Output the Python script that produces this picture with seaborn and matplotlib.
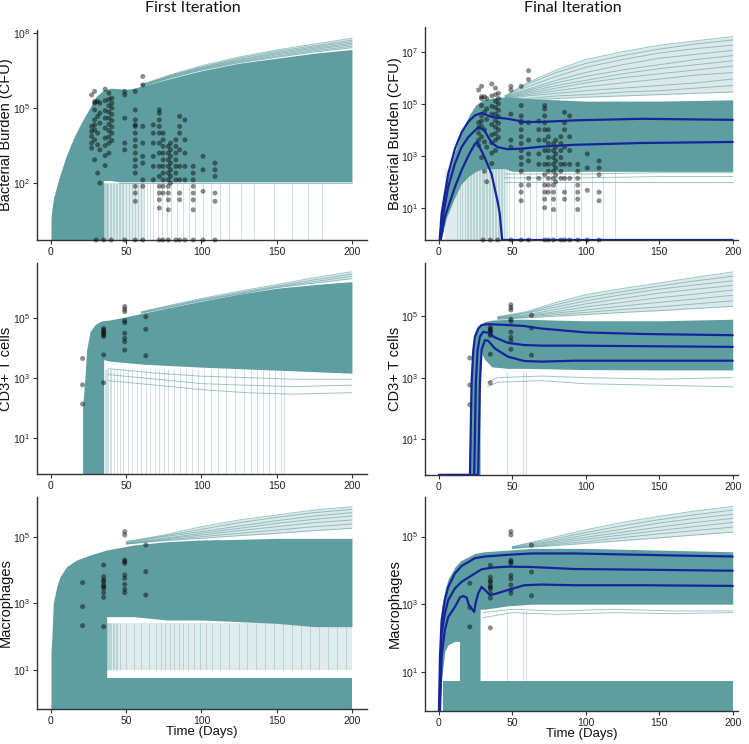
import matplotlib
matplotlib.use("Agg")
import matplotlib.pyplot as plt
from matplotlib.ticker import NullLocator
import numpy as np
import pandas as pd
import seaborn as sns

TEAL = "#5f9ea0"
BLUE = "#14259b"

CFU_T = [27, 29, 31, 32.5, 36, 38.5, 40.5, 49, 56, 61, 68, 72, 74.5, 78, 79.5,
         83, 85.5, 89, 94.5, 101, 109]
CFU_LOG = [
    [5.53, 4.27, 4.07, 3.87, 3.6, 3.4],
    [5.67, 5.27, 5.2, 4.93, 4.53, 4.33, 4.13, 3.73, 2.93],
    [5.27, 4.67, 4.0, 3.53, 2.4],
    [5.2, 4.8, 4.4, 3.33, 2.0],
    [5.76, 5.3, 4.9, 4.6, 4.2, 3.8, 3.5, 3.1, 2.7],
    [5.6, 5.35, 5.1, 4.85, 4.6, 4.35, 4.1, 3.85, 3.6, 3.2],
    [5.4, 5.2, 5.0, 4.75, 4.5, 4.25, 4.0, 3.7],
    [5.67, 5.53, 4.6, 3.6, 3.33],
    [5.67, 4.93, 4.53, 4.33, 4.27, 4.0, 3.73, 3.47, 3.2, 2.93, 2.67, 2.4, 1.87, 1.6, 1.27],
    [6.27, 5.93, 4.27, 3.6, 3.07, 2.8, 2.13, 1.87],
    [4.33, 4.0, 3.6, 3.07, 2.67, 2.13],
    [4.93, 4.8, 4.53, 4.27, 4.0, 3.6, 3.2, 2.67, 2.27, 1.87, 1.6, 1.33, 1.0],
    [4.0, 3.73, 3.47, 3.2, 2.93, 2.67, 2.4, 2.13, 1.87, 1.6],
    [3.47, 3.2, 2.93, 2.67, 2.4, 2.13, 1.87, 1.6, 1.33, 0.93],
    [3.6, 3.33, 3.07, 2.8, 2.53, 2.27, 2.0],
    [3.73, 3.47, 3.2, 2.93, 2.67, 2.4, 2.13],
    [4.67, 4.27, 4.0, 3.33, 2.67, 2.13, 1.6, 1.33],
    [4.53, 3.73, 3.2, 2.67, 2.13],
    [2.67, 2.4, 2.13, 1.87, 1.6, 1.33, 0.93],
    [3.07, 2.53, 1.67],
    [2.8, 2.53, 2.27, 1.6, 1.27],
]
CFU_ZERO_T = [30, 35, 40, 49, 56, 61, 72, 74.5, 78, 83, 85.5, 89, 94.5, 101, 109]

CD3_T = [21, 35, 49, 63]
CD3_LOG = [
    [3.64, 2.76, 2.12],
    [4.64, 4.58, 4.53, 4.48, 4.42, 4.37, 3.76, 2.83],
    [5.37, 5.28, 5.2, 4.9, 4.83, 4.48, 4.31, 4.2, 3.92],
    [5.03, 4.61, 3.73],
]

MAC_T = [21, 35, 49, 63]
MAC_LOG = [
    [3.62, 2.9, 2.33],
    [4.15, 3.8, 3.7, 3.65, 3.55, 3.5, 3.45, 3.32, 3.18, 2.3],
    [5.15, 5.05, 4.3, 4.25, 4.2, 3.85, 3.75, 3.57, 3.42, 3.32],
    [4.75, 3.95, 3.25],
]

# ---------- first iteration, bacterial burden ----------
TL_YLIM = (-0.28, 8.13)
TL_BAND_T = [0, 1, 2, 5, 10, 15, 20, 25, 30, 35, 35.01, 40, 45, 50, 55, 60, 80, 100, 125, 150, 175, 200]
TL_BAND_LO = [-0.28, -0.28, -0.28, -0.28, -0.28, -0.28, -0.28, -0.28, -0.28, -0.28,
              2.1, 2.1, 2.05, 2.05, 2.05, 2.05, 2.05, 2.05, 2.05, 2.05, 2.05, 2.05]
TL_BAND_HI = [0.6, 1.15, 1.47, 2.13, 3.07, 3.8, 4.4, 4.93, 5.47, 5.73, 5.73, 5.8, 5.78, 5.75,
              5.8, 5.88, 6.2, 6.5, 6.8, 7.0, 7.2, 7.35]
TL_FAN_T = [60, 80, 100, 125, 150, 175, 200]
TL_FANS = [
    [5.95, 6.35, 6.7, 7.05, 7.33, 7.57, 7.8],
    [5.92, 6.32, 6.65, 7.0, 7.28, 7.5, 7.72],
    [5.92, 6.3, 6.62, 6.95, 7.22, 7.45, 7.66],
    [5.9, 6.28, 6.6, 6.92, 7.18, 7.4, 7.6],
    [5.9, 6.25, 6.57, 6.88, 7.13, 7.35, 7.55],
    [5.88, 6.23, 6.55, 6.85, 7.08, 7.3, 7.48],
    [5.88, 6.22, 6.52, 6.82, 7.04, 7.25, 7.42],
]
TL_LOW_T = [45, 100, 150, 200]
TL_LOWS = [[2.0, 2.0, 2.0, 2.0], [2.15, 2.2, 2.2, 2.25], [2.3, 2.35, 2.4, 2.4]]
TL_SPIKE_T = [35.5, 36, 36.5, 37, 37.5, 38, 39, 40, 41, 42, 43, 44, 45, 46, 47, 48, 50, 52,
              54, 56, 58, 60, 62, 64, 66, 68, 71, 74, 77, 80, 84, 88, 92, 96, 101, 106, 112,
              118, 126, 135, 148, 160, 171, 180]
TL_SPIKE_RNG = (-0.28, 2.0)
TL_HAZE_T = [35, 62]
TL_HAZE_RNG = (-0.28, 2.0)

# ---------- final iteration, bacterial burden ----------
TR_YLIM = (-0.24, 7.95)
TR_BAND_T = [0, 1, 2, 5, 10, 15, 20, 25, 30, 35, 40, 45, 50, 60, 80, 100, 150, 200]
TR_BAND_LO = [-0.24, -0.24, -0.1, 0.6, 1.3, 1.9, 2.2, 2.4, 2.5, 2.5, 2.5, 2.5, 2.4, 2.4,
              2.4, 2.4, 2.4, 2.4]
TR_BAND_HI = [0.0, 0.6, 1.2, 2.0, 3.0, 3.85, 4.5, 4.95, 5.15, 5.2, 5.25, 5.25, 5.25, 5.2,
              5.15, 5.1, 5.1, 5.15]
TR_FAN_T = [45, 60, 80, 100, 125, 150, 175, 200]
TR_FANS = [
    [5.3, 5.8, 6.3, 6.7, 7.0, 7.25, 7.42, 7.58],
    [5.3, 5.75, 6.2, 6.55, 6.85, 7.1, 7.3, 7.45],
    [5.28, 5.65, 6.05, 6.4, 6.7, 6.95, 7.12, 7.25],
    [5.25, 5.55, 5.9, 6.2, 6.5, 6.75, 6.9, 7.05],
    [5.25, 5.5, 5.8, 6.05, 6.3, 6.5, 6.7, 6.85],
    [5.22, 5.45, 5.7, 5.9, 6.15, 6.35, 6.5, 6.65],
    [5.2, 5.4, 5.6, 5.8, 6.0, 6.15, 6.3, 6.45],
    [5.2, 5.35, 5.5, 5.65, 5.8, 5.95, 6.1, 6.2],
    [5.15, 5.3, 5.4, 5.5, 5.6, 5.7, 5.8, 5.95],
    [5.1, 5.2, 5.3, 5.35, 5.45, 5.5, 5.6, 5.7],
    [5.1, 5.15, 5.2, 5.25, 5.3, 5.35, 5.4, 5.45],
]
TR_LOW_T = [45, 100, 150, 200]
TR_LOWS = [[2.0, 2.0, 2.0, 2.0], [2.15, 2.15, 2.2, 2.2], [2.3, 2.3, 2.35, 2.35]]
TR_SPIKE_T = [12, 14, 16, 17.5, 19, 20, 21, 22, 23, 24, 25, 26, 27, 28, 29, 30, 31, 32, 33,
              34, 35, 36, 37, 38, 39, 40, 41, 42, 43, 44, 46, 48, 51, 55, 58, 62, 66, 71, 76,
              80, 86, 92, 97, 104, 112, 120]
TR_SPIKE_RNG = (-0.24, 2.5)
TR_HAZE_T = [4, 46]
TR_HAZE_RNG = (-0.24, 2.5)
TR_Q_HI_T = [0.5, 1.8, 4, 6.3, 10.9, 15.4, 19.9, 24.5, 29, 31, 35.8, 47, 58, 70, 92, 138, 200]
TR_Q_HI = [-0.24, 0.77, 1.54, 2.3, 3.27, 3.9, 4.3, 4.55, 4.65, 4.6, 4.49, 4.42, 4.3, 4.3,
           4.36, 4.42, 4.38]
TR_Q_MID_T = [0.8, 3, 6.3, 10.9, 15.4, 20, 24.5, 27, 31, 35.8, 40, 47, 58, 70, 92, 138, 200]
TR_Q_MID = [-0.24, 0.77, 1.8, 2.7, 3.33, 3.72, 3.97, 4.1, 3.97, 3.5, 3.33, 3.25, 3.28, 3.35,
            3.42, 3.49, 3.53]
TR_Q_LO_T = [1.2, 4, 10.9, 15.4, 20, 24.5, 26, 31, 35.8, 40, 41.4, 43, 200]
TR_Q_LO = [-0.24, 0.64, 1.8, 2.44, 3.0, 3.46, 3.53, 2.95, 2.3, 1.22, 0.77, -0.24, -0.24]

# ---------- first iteration, CD3+ T cells ----------
ML_YLIM = (-0.21, 6.82)
ML_BAND_T = [21, 21.01, 22.6, 23.7, 25.9, 29.2, 32.5, 35, 35.01, 39, 50, 61, 80, 100, 125,
             150, 175, 200]
ML_BAND_LO = [-0.21, -0.21, -0.21, -0.21, -0.21, -0.21, -0.21, -0.21, 3.6, 3.55, 3.5, 3.45,
              3.4, 3.35, 3.3, 3.25, 3.2, 3.15]
ML_BAND_HI = [-0.21, 2.0, 3.03, 3.92, 4.53, 4.76, 4.87, 4.9, 4.9, 4.92, 5.03, 5.15, 5.35, 5.55,
              5.78, 5.98, 6.1, 6.2]
ML_FAN_T = [60, 80, 100, 125, 150, 175, 200]
ML_FANS = [
    [5.2, 5.42, 5.64, 5.88, 6.1, 6.33, 6.53],
    [5.18, 5.4, 5.6, 5.84, 6.05, 6.26, 6.45],
    [5.16, 5.37, 5.58, 5.8, 6.02, 6.2, 6.38],
    [5.15, 5.36, 5.56, 5.78, 6.0, 6.15, 6.3],
]
ML_LOW_T = [38, 70, 100, 130, 160, 200]
ML_LOWS = [[3.3, 3.15, 3.05, 3.0, 2.95, 2.95],
           [3.1, 2.95, 2.8, 2.75, 2.7, 2.75],
           [2.9, 2.75, 2.6, 2.5, 2.45, 2.5]]
ML_SPIKE_T = [36, 36.5, 37, 38, 39, 40, 42, 44, 46, 48, 51, 54, 57, 60, 63, 66, 69, 72, 75,
              78, 82, 86, 90, 94, 98, 102, 106, 111, 116, 122, 128, 133, 137, 141, 145, 149,
              153, 155]
ML_SPIKE_RNG = (-0.21, 3.3)

# ---------- final iteration, CD3+ T cells ----------
MR_YLIM = (-0.17, 6.73)
MR_BAND_T = [20.5, 21, 22.2, 23.4, 24.5, 26, 28, 28.01, 31, 36, 47, 60, 80, 100, 150, 200]
MR_BAND_LO = [-0.17, -0.17, -0.17, -0.17, -0.17, -0.17, -0.17, 3.9, 3.6, 3.35, 3.3, 3.3,
              3.28, 3.26, 3.25, 3.25]
MR_BAND_HI = [-0.17, 1.5, 3.0, 3.9, 4.33, 4.6, 4.72, 4.72, 4.82, 4.87, 4.9, 4.9, 4.87, 4.85,
              4.85, 4.9]
MR_FAN_T = [40, 60, 80, 100, 125, 150, 175, 200]
MR_FANS = [
    [4.98, 5.15, 5.45, 5.7, 5.9, 6.08, 6.27, 6.44],
    [4.97, 5.12, 5.38, 5.6, 5.8, 5.98, 6.15, 6.3],
    [4.95, 5.1, 5.3, 5.5, 5.7, 5.88, 6.02, 6.15],
    [4.95, 5.05, 5.22, 5.4, 5.58, 5.75, 5.88, 6.0],
    [4.93, 5.02, 5.15, 5.3, 5.45, 5.6, 5.72, 5.85],
    [4.92, 5.0, 5.1, 5.2, 5.33, 5.45, 5.56, 5.68],
    [4.9, 4.97, 5.05, 5.12, 5.22, 5.3, 5.4, 5.5],
    [4.9, 4.95, 5.0, 5.05, 5.12, 5.18, 5.25, 5.32],
]
MR_LOW_T = [33, 40, 70, 100, 150, 200]
MR_LOWS = [[2.85, 3.0, 3.05, 3.0, 2.95, 3.0], [2.7, 2.85, 2.9, 2.8, 2.75, 2.7]]
MR_SPIKE_T = [46.5, 57.5, 59.5]
MR_SPIKE_RNG = (-0.17, 3.2)
MR_Q_HI_T = [0, 21.1, 22.2, 23.4, 24.5, 26.7, 29, 33.5, 47, 58, 69, 81, 100, 138, 200]
MR_Q_HI = [-0.17, -0.17, 2.81, 3.9, 4.33, 4.6, 4.71, 4.74, 4.71, 4.68, 4.6, 4.55, 4.47, 4.42, 4.38]
MR_Q_MID_T = [0, 24, 25.1, 26.3, 27.9, 30.1, 33.5, 38, 47, 58, 70, 92, 200]
MR_Q_MID = [-0.17, -0.17, 2.81, 3.9, 4.33, 4.49, 4.46, 4.31, 4.13, 4.06, 4.04, 4.04, 4.0]
MR_Q_LO_T = [0, 26.7, 27.9, 29, 31.3, 33.5, 38, 47, 58, 70, 92, 200]
MR_Q_LO = [-0.17, -0.17, 2.81, 3.9, 4.22, 4.2, 3.95, 3.68, 3.54, 3.52, 3.55, 3.55]

# ---------- first iteration, macrophages ----------
BL_YLIM = (-0.17, 6.19)
BL_BAND_T = [0, 0.01, 1, 1.5, 3.8, 6, 10.4, 17, 26, 37, 37.01, 55, 77, 100, 125, 150, 175, 200]
BL_BAND_LO = [-0.17, -0.17, -0.17, -0.17, -0.17, -0.17, -0.17, -0.17, -0.17, -0.17, 2.6, 2.6,
              2.5, 2.5, 2.45, 2.4, 2.3, 2.3]
BL_BAND_HI = [-0.17, 1.5, 2.4, 3.0, 3.5, 3.8, 4.1, 4.3, 4.45, 4.6, 4.6, 4.75, 4.85, 4.9, 4.92,
              4.95, 4.95, 4.95]
BL_FAN_T = [50, 75, 100, 125, 150, 175, 200]
BL_FANS = [
    [4.85, 5.05, 5.3, 5.5, 5.65, 5.8, 5.9],
    [4.85, 5.02, 5.22, 5.42, 5.58, 5.72, 5.82],
    [4.82, 5.0, 5.15, 5.32, 5.48, 5.62, 5.72],
    [4.8, 4.95, 5.1, 5.25, 5.4, 5.52, 5.62],
    [4.8, 4.93, 5.05, 5.18, 5.3, 5.42, 5.5],
    [4.78, 4.9, 5.0, 5.1, 5.2, 5.3, 5.38],
    [4.78, 4.88, 4.95, 5.03, 5.1, 5.18, 5.25],
]
BL_SPIKE_T = [37.5, 38, 38.5, 39, 40, 41, 42, 43, 44, 46, 50, 55, 60, 65, 70, 73, 76, 79, 82,
              85, 88, 91, 95, 99, 103, 107, 112, 118, 125, 130, 136, 142, 148, 154, 160, 166,
              172, 178, 184, 190, 196]
BL_SPIKE_RNG = (1.0, 2.4)
BL_HAZE_T = [37, 200]
BL_HAZE_RNG = (1.0, 2.4)
BL_STRIP_T = [37, 200]
BL_STRIP_HI = 0.75

# ---------- final iteration, macrophages ----------
BR_YLIM = (-0.16, 6.17)
BR_BAND_T = [0, 0.7, 1.8, 4, 6.3, 10.9, 14, 14.01, 15.4, 24.5, 28, 28.01, 31, 47, 63, 100,
             150, 200]
BR_BAND_LO = [-0.16, -0.16, 0.8, 1.6, 1.8, 1.9, 1.9, -0.16, -0.16, -0.16, -0.16, 2.85, 2.85,
              2.95, 3.0, 3.0, 3.0, 3.0]
BR_BAND_HI = [-0.16, 2.0, 2.9, 3.4, 3.75, 4.1, 4.25, 4.25, 4.3, 4.5, 4.53, 4.53, 4.55, 4.6,
              4.65, 4.65, 4.6, 4.55]
BR_FAN_T = [50, 75, 100, 125, 150, 175, 200]
BR_FANS = [
    [4.7, 4.95, 5.2, 5.42, 5.6, 5.76, 5.89],
    [4.7, 4.9, 5.12, 5.32, 5.5, 5.65, 5.78],
    [4.68, 4.85, 5.05, 5.22, 5.4, 5.54, 5.66],
    [4.67, 4.82, 4.98, 5.13, 5.28, 5.42, 5.54],
    [4.66, 4.78, 4.92, 5.05, 5.18, 5.3, 5.42],
    [4.65, 4.75, 4.85, 4.97, 5.08, 5.18, 5.28],
    [4.65, 4.72, 4.8, 4.88, 4.96, 5.05, 5.13],
]
BR_LOW_T = [30, 50, 80, 120, 160, 200]
BR_LOWS = [[2.75, 2.85, 2.8, 2.85, 2.8, 2.8], [2.6, 2.75, 2.7, 2.75, 2.72, 2.75]]
BR_SPIKE_T = [46.5, 57.5, 59.5]
BR_SPIKE_RNG = (0.74, 2.8)
BR_STRIP_T = [3, 200]
BR_STRIP_HI = 0.74
BR_Q_HI_T = [0, 0.7, 1.8, 4, 6.3, 10.9, 15.4, 24.5, 31.3, 47, 63, 92, 115, 138, 160, 200]
BR_Q_HI = [-0.16, 1.44, 2.52, 3.12, 3.51, 3.91, 4.13, 4.36, 4.41, 4.46, 4.5, 4.5, 4.48, 4.46,
           4.44, 4.41]
BR_Q_MID_T = [0.3, 1.8, 4, 6.3, 10.9, 15.4, 24.5, 29, 35.8, 47, 63, 92, 138, 200]
BR_Q_MID = [-0.16, 2.13, 2.72, 3.12, 3.47, 3.66, 3.91, 4.03, 4.08, 4.11, 4.1, 4.04, 4.02, 3.99]
BR_Q_LO_T = [0.7, 1.8, 4, 6.3, 10.9, 14.3, 16.5, 18.8, 20.4, 22.2, 24, 24.9, 26.7, 29, 31.3,
             34.7, 38, 47, 58, 70, 92, 138, 200]
BR_Q_LO = [-0.16, 1.44, 2.23, 2.62, 2.92, 3.2, 3.24, 3.2, 2.97, 2.87, 2.77, 3.02, 3.32, 3.51,
           3.42, 3.27, 3.3, 3.42, 3.56, 3.58, 3.56, 3.56, 3.54]


def points_frame(times, groups):
    rows = [(t, 10 ** v) for t, g in zip(times, groups) for v in g]
    return pd.DataFrame(rows, columns=["day", "value"])


def pw(a):
    return 10 ** np.asarray(a, dtype=float)


def draw(ax, ylim, yticks, band, fans, pts, low=None, spikes=None, haze=None,
         strip=None, zeros=None, quant=None, xlim=(-9.3, 210)):
    ax.set_yscale("log")
    if haze is not None:
        ht, hr = haze
        ax.fill_between(ht, [10 ** hr[0]] * 2, [10 ** hr[1]] * 2, color=TEAL, alpha=0.2, lw=0)
    if spikes is not None:
        st, sr = spikes
        ax.vlines(st, 10 ** sr[0], 10 ** sr[1], color=TEAL, alpha=0.35, lw=0.6)
    if low is not None:
        lt, lows = low
        for v in lows:
            sns.lineplot(x=lt, y=pw(v), ax=ax, color=TEAL, alpha=0.6, lw=0.7,
                         estimator=None, sort=False)
    bt, blo, bhi = band
    ax.fill_between(bt, pw(blo), pw(bhi), color=TEAL, lw=0)
    if strip is not None:
        stt, shi = strip
        ax.fill_between(stt, [10 ** ylim[0]] * 2, [10 ** shi] * 2, color=TEAL, lw=0)
    ft, flines = fans
    # light wash behind the spread of upper trajectories
    ax.fill_between(ft, pw(flines[-1]), pw(flines[0]), color=TEAL, alpha=0.22, lw=0)
    for v in flines:
        sns.lineplot(x=ft, y=pw(v), ax=ax, color=TEAL, alpha=0.6, lw=0.7,
                     estimator=None, sort=False)
    sns.scatterplot(data=pts, x="day", y="value", ax=ax, color="black", alpha=0.45,
                    s=13, edgecolor="none", zorder=5)
    if zeros is not None:
        sns.scatterplot(x=zeros, y=[10 ** ylim[0]] * len(zeros), ax=ax, color="black",
                        alpha=0.45, s=13, edgecolor="none", zorder=5, clip_on=False)
    if quant is not None:
        for qt, qv in quant:
            sns.lineplot(x=qt, y=pw(qv), ax=ax, color=BLUE, lw=1.6, estimator=None,
                         sort=False, zorder=6)
    ax.set_xlim(*xlim)
    ax.set_ylim(10 ** ylim[0], 10 ** ylim[1])
    ax.set_yticks([10 ** k for k in yticks])
    ax.set_yticklabels([r"$10^{%d}$" % k for k in yticks])
    ax.yaxis.set_minor_locator(NullLocator())
    ax.set_xticks([0, 50, 100, 150, 200])
    ax.set_xlabel("")
    ax.set_ylabel("")
    sns.despine(ax=ax)
    for s in ("left", "bottom"):
        ax.spines[s].set_color("#333333")
        ax.spines[s].set_linewidth(1.0)
    ax.tick_params(axis="both", labelsize=7.5, length=3, width=0.8, colors="#333333",
                   labelcolor="#222222", pad=2)


sns.set_theme(style="ticks")
plt.rcParams["font.family"] = ["Liberation Sans", "DejaVu Sans"]
plt.rcParams["mathtext.fontset"] = "custom"
plt.rcParams["mathtext.rm"] = "Liberation Sans"
plt.rcParams["mathtext.it"] = "Liberation Sans:italic"
plt.rcParams["mathtext.bf"] = "Liberation Sans:bold"

fig = plt.figure(figsize=(7.49, 7.44), dpi=100)


def pix_axes(left, top, right, bottom):
    return fig.add_axes([left / 749, 1 - bottom / 744, (right - left) / 749, (bottom - top) / 744])


cfu = points_frame(CFU_T, CFU_LOG)
cd3 = points_frame(CD3_T, CD3_LOG)
mac = points_frame(MAC_T, MAC_LOG)

ax_tl = pix_axes(37, 30, 367, 240)
draw(ax_tl, TL_YLIM, [2, 5, 8], (TL_BAND_T, TL_BAND_LO, TL_BAND_HI), (TL_FAN_T, TL_FANS), cfu,
     low=(TL_LOW_T, TL_LOWS), spikes=(TL_SPIKE_T, TL_SPIKE_RNG), haze=(TL_HAZE_T, TL_HAZE_RNG),
     zeros=CFU_ZERO_T)

ax_tr = pix_axes(425, 27, 738, 240)
draw(ax_tr, TR_YLIM, [1, 3, 5, 7], (TR_BAND_T, TR_BAND_LO, TR_BAND_HI), (TR_FAN_T, TR_FANS), cfu,
     low=(TR_LOW_T, TR_LOWS), spikes=(TR_SPIKE_T, TR_SPIKE_RNG), haze=(TR_HAZE_T, TR_HAZE_RNG),
     zeros=CFU_ZERO_T,
     quant=[(TR_Q_HI_T, TR_Q_HI), (TR_Q_MID_T, TR_Q_MID), (TR_Q_LO_T, TR_Q_LO)],
     xlim=(-9.5, 203.6))

ax_ml = pix_axes(37, 263, 367, 474)
draw(ax_ml, ML_YLIM, [1, 3, 5], (ML_BAND_T, ML_BAND_LO, ML_BAND_HI), (ML_FAN_T, ML_FANS), cd3,
     low=(ML_LOW_T, ML_LOWS), spikes=(ML_SPIKE_T, ML_SPIKE_RNG))

ax_mr = pix_axes(425, 263, 738, 475)
draw(ax_mr, MR_YLIM, [1, 3, 5], (MR_BAND_T, MR_BAND_LO, MR_BAND_HI), (MR_FAN_T, MR_FANS), cd3,
     low=(MR_LOW_T, MR_LOWS), spikes=(MR_SPIKE_T, MR_SPIKE_RNG),
     quant=[(MR_Q_HI_T, MR_Q_HI), (MR_Q_MID_T, MR_Q_MID), (MR_Q_LO_T, MR_Q_LO)],
     xlim=(-9.5, 203.6))

ax_bl = pix_axes(37, 497, 367, 709)
draw(ax_bl, BL_YLIM, [1, 3, 5], (BL_BAND_T, BL_BAND_LO, BL_BAND_HI), (BL_FAN_T, BL_FANS), mac,
     spikes=(BL_SPIKE_T, BL_SPIKE_RNG), haze=(BL_HAZE_T, BL_HAZE_RNG),
     strip=(BL_STRIP_T, BL_STRIP_HI))

ax_br = pix_axes(425, 497, 738, 711)
draw(ax_br, BR_YLIM, [1, 3, 5], (BR_BAND_T, BR_BAND_LO, BR_BAND_HI), (BR_FAN_T, BR_FANS), mac,
     low=(BR_LOW_T, BR_LOWS), spikes=(BR_SPIKE_T, BR_SPIKE_RNG),
     strip=(BR_STRIP_T, BR_STRIP_HI),
     quant=[(BR_Q_HI_T, BR_Q_HI), (BR_Q_MID_T, BR_Q_MID), (BR_Q_LO_T, BR_Q_LO)],
     xlim=(-9.5, 203.6))

ylabels = ["Bacterial Burden (CFU)", "CD3+ T cells", "Macrophages"]
for row, (a_left, a_right) in enumerate([(ax_tl, ax_tr), (ax_ml, ax_mr), (ax_bl, ax_br)]):
    for a in (a_left, a_right):
        a.set_ylabel(ylabels[row], fontsize=10.5, color="#111111")
        a.yaxis.set_label_coords(-0.074, 0.5)

for a in (ax_bl, ax_br):
    a.set_xlabel("Time (Days)", fontsize=9.5, color="#111111")
    a.xaxis.set_label_coords(0.5, -0.078)

fig.text(193 / 749, 1 - 8 / 744, "First Iteration", ha="center", va="center",
         fontsize=11.5, family=["Lato", "DejaVu Sans"], color="#111111")
fig.text(573 / 749, 1 - 8 / 744, "Final Iteration", ha="center", va="center",
         fontsize=11.5, family=["Lato", "DejaVu Sans"], color="#111111")

fig.savefig("out.png", dpi=100)
